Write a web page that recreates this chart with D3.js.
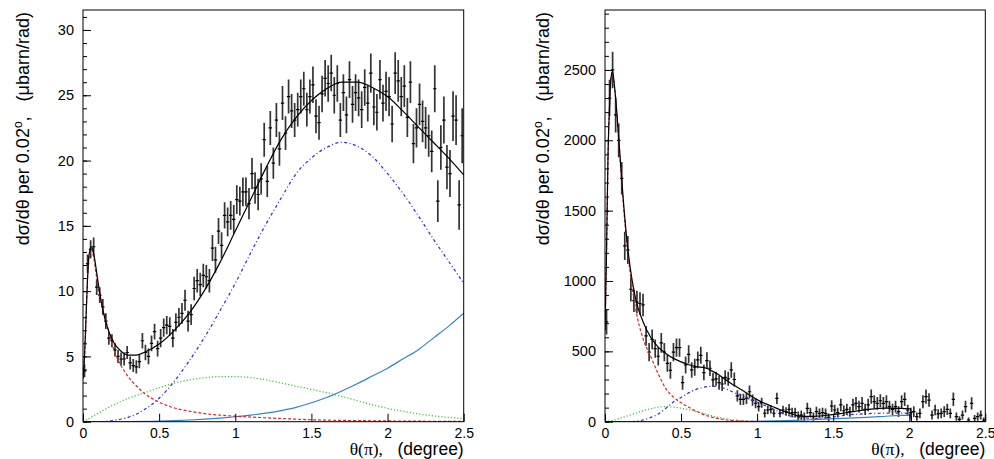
<!DOCTYPE html>
<html>
<head>
<meta charset="utf-8">
<script src="https://cdn.jsdelivr.net/npm/d3@7"></script>
<style>
  body { margin: 0; background: #fff; }
  text { font-family: "Liberation Sans", Arial, Helvetica, sans-serif; }
</style>
</head>
<body>
<script>
// bin centres (0.02 degree bins)
var thetaBins = [
  0.01,0.03,0.05,0.07,0.09,0.11,0.13,0.15,0.17,0.19,
  0.21,0.23,0.25,0.27,0.29,0.31,0.33,0.35,0.37,0.39,
  0.41,0.43,0.45,0.47,0.49,0.51,0.53,0.55,0.57,0.59,
  0.61,0.63,0.65,0.67,0.69,0.71,0.73,0.75,0.77,0.79,
  0.81,0.83,0.85,0.87,0.89,0.91,0.93,0.95,0.97,0.99,
  1.01,1.03,1.05,1.07,1.09,1.11,1.13,1.15,1.17,1.19,
  1.21,1.23,1.25,1.27,1.29,1.31,1.33,1.35,1.37,1.39,
  1.41,1.43,1.45,1.47,1.49,1.51,1.53,1.55,1.57,1.59,
  1.61,1.63,1.65,1.67,1.69,1.71,1.73,1.75,1.77,1.79,
  1.81,1.83,1.85,1.87,1.89,1.91,1.93,1.95,1.97,1.99,
  2.01,2.03,2.05,2.07,2.09,2.11,2.13,2.15,2.17,2.19,
  2.21,2.23,2.25,2.27,2.29,2.31,2.33,2.35,2.37,2.39,
  2.41,2.43,2.45,2.47,2.49
];

// left panel: measured points and errors
var leftCounts = [
  3.9,12.1,13.2,13.4,10.3,9.7,8.8,7.7,6.4,6.2,
  5.5,5.0,4.8,4.8,5.3,4.5,4.3,4.2,4.6,6.2,
  5.3,5.0,6.0,6.9,5.6,6.4,7.2,7.4,7.3,6.4,
  7.6,8.0,8.3,9.3,7.7,8.2,10.2,10.8,10.5,11.2,
  11.1,10.8,13.3,12.4,14.6,13.5,15.8,15.3,15.8,15.5,
  17.0,16.9,17.6,17.6,16.7,19.0,17.9,17.4,18.6,21.6,
  18.4,22.5,19.8,23.1,20.9,24.4,22.1,24.9,23.8,23.1,
  23.9,24.9,25.5,23.9,24.9,25.8,23.4,22.9,25.1,26.3,
  25.9,26.7,25.0,25.9,23.1,25.2,23.5,26.2,24.3,25.2,
  24.8,23.9,25.6,24.4,26.7,24.1,23.7,26.2,24.4,25.3,
  24.9,22.8,26.7,26.1,24.9,25.7,23.3,26.0,21.3,22.5,
  24.3,23.0,22.5,21.9,20.7,25.5,16.9,21.0,23.1,19.5,
  19.0,23.4,23.1,16.6,21.9
];
var leftErrors = [
  0.5,0.7,0.7,0.7,0.6,0.6,0.6,0.6,0.5,0.5,
  0.5,0.5,0.5,0.5,0.5,0.5,0.5,0.5,0.5,0.6,
  0.6,0.6,0.6,0.6,0.6,0.7,0.7,0.7,0.7,0.7,
  0.7,0.7,0.8,0.8,0.8,0.8,0.9,0.9,0.9,0.9,
  0.9,0.9,1.0,1.0,1.0,1.0,1.0,1.1,1.1,1.1,
  1.1,1.1,1.1,1.1,1.2,1.2,1.2,1.2,1.2,1.3,
  1.2,1.3,1.2,1.3,1.3,1.3,1.3,1.3,1.3,1.3,
  1.3,1.3,1.3,1.3,1.3,1.4,1.3,1.3,1.4,1.4,
  1.4,1.4,1.4,1.4,1.3,1.4,1.4,1.4,1.4,1.4,
  1.4,1.4,1.4,1.4,1.5,1.4,1.4,1.5,1.4,1.5,
  1.5,1.4,1.6,1.6,1.5,1.6,1.5,1.6,1.5,1.5,
  1.6,1.6,1.6,1.6,1.6,1.8,1.6,1.7,1.8,1.7,
  1.8,1.9,1.9,1.9,2.1
];

// left panel: fit and its components, [theta, value]
var leftTotal = [[0,3.3],[0.01,5.0],[0.02,8.0],[0.03,11.0],[0.04,12.8],[0.055,13.4],[0.07,12.9],[0.08,12.2],[0.1,10.6],[0.12,9.2],[0.15,7.6],[0.2,6.1],[0.25,5.4],[0.3,5.1],[0.35,5.1],[0.4,5.3],[0.5,5.95],[0.6,7.0],[0.7,8.35],[0.8,10.1],[0.9,12.2],[1.0,14.6],[1.1,17.0],[1.2,19.4],[1.3,21.6],[1.4,23.3],[1.5,24.6],[1.6,25.5],[1.7,26.0],[1.8,26.0],[1.9,25.6],[2.0,24.9],[2.1,23.8],[2.2,22.6],[2.3,21.4],[2.4,20.2],[2.5,18.9]];
var leftPeak = [[0,3.3],[0.01,5.0],[0.02,8.0],[0.03,11.0],[0.04,12.7],[0.055,13.2],[0.07,12.6],[0.085,11.4],[0.1,10.2],[0.13,8.6],[0.17,6.9],[0.2,5.6],[0.25,4.3],[0.3,3.4],[0.35,2.75],[0.4,2.2],[0.5,1.5],[0.6,1.05],[0.7,0.8],[0.8,0.62],[0.9,0.5],[1.0,0.42],[1.2,0.3],[1.5,0.15],[2.0,0.06],[2.5,0.02]];
var leftBroad = [[0,0],[0.1,0.65],[0.2,1.28],[0.3,1.8],[0.4,2.2],[0.5,2.6],[0.6,2.95],[0.7,3.2],[0.8,3.37],[0.9,3.45],[1.0,3.45],[1.1,3.38],[1.2,3.2],[1.3,2.97],[1.4,2.72],[1.5,2.48],[1.6,2.22],[1.7,1.93],[1.8,1.62],[1.9,1.3],[2.0,1.02],[2.1,0.8],[2.2,0.6],[2.3,0.45],[2.4,0.33],[2.5,0.25]];
var leftHump = [[0,0],[0.1,0],[0.2,0.1],[0.3,0.35],[0.4,0.9],[0.5,1.8],[0.6,3.1],[0.7,4.7],[0.8,6.5],[0.9,8.5],[1.0,10.6],[1.1,12.9],[1.2,15.1],[1.3,17.1],[1.4,19.0],[1.5,20.2],[1.6,21.0],[1.7,21.4],[1.8,21.1],[1.9,20.3],[2.0,19.0],[2.1,17.5],[2.2,15.8],[2.3,14.0],[2.4,12.3],[2.5,10.6]];
var leftRise = [[0,0],[0.3,0.01],[0.5,0.04],[0.6,0.08],[0.7,0.13],[0.8,0.2],[0.9,0.28],[1.0,0.38],[1.1,0.5],[1.2,0.65],[1.3,0.85],[1.4,1.1],[1.5,1.45],[1.6,1.85],[1.7,2.35],[1.8,2.9],[1.9,3.5],[2.0,4.1],[2.1,4.8],[2.2,5.5],[2.3,6.4],[2.4,7.3],[2.5,8.3]];

// right panel: measured points and errors
var rightCounts = [
  710,2300,2500,2180,2000,1730,1250,1220,940,860,
  850,840,830,610,495,585,520,465,560,495,
  415,365,495,527,527,277,403,479,368,387,
  439,472,349,434,380,297,305,277,268,315,
  305,368,300,183,159,159,166,213,154,131,
  107,135,60,83,88,60,166,60,83,72,
  88,64,64,40,47,36,95,64,36,71,
  59,64,59,31,111,83,64,119,78,88,
  71,119,130,107,130,88,119,178,142,130,
  149,130,142,107,88,107,71,142,159,83,
  64,71,36,59,142,178,154,47,83,55,
  59,71,88,59,159,36,17,47,107,12,
  130,24,36,47,12
];
var rightErrors = [
  90,130,130,125,120,115,100,100,85,80,
  80,80,80,70,65,70,65,65,70,65,
  60,60,65,65,65,50,60,65,55,60,
  60,60,55,60,55,50,50,50,50,50,
  50,55,50,40,40,40,40,45,40,35,
  35,35,30,30,30,28,40,28,30,30,
  38,35,35,32,33,30,40,35,30,36,
  34,35,34,28,42,38,35,44,38,40,
  36,44,45,42,45,40,44,50,46,45,
  46,45,46,42,40,42,38,46,48,38,
  35,38,30,34,46,50,48,32,38,34,
  34,38,40,34,48,30,22,32,42,18,
  44,24,30,32,18
];

var rightTotal = [[0,650],[0.01,1200],[0.02,1900],[0.03,2250],[0.04,2450],[0.05,2490],[0.06,2410],[0.08,2170],[0.1,1870],[0.12,1580],[0.15,1230],[0.2,880],[0.25,710],[0.3,600],[0.35,530],[0.4,485],[0.45,450],[0.5,425],[0.55,405],[0.6,392],[0.67,378],[0.7,362],[0.75,332],[0.8,292],[0.85,258],[0.9,225],[0.95,190],[1.0,157],[1.05,130],[1.1,108],[1.15,85],[1.2,65],[1.27,42],[1.35,38],[1.45,45],[1.55,58],[1.65,75],[1.75,90],[1.85,96],[1.95,94],[2.01,92],[2.015,0],[2.5,0]];
var rightPeak = [[0,650],[0.01,1200],[0.02,1900],[0.03,2250],[0.04,2450],[0.05,2480],[0.06,2400],[0.08,2150],[0.1,1850],[0.12,1550],[0.15,1200],[0.2,810],[0.25,590],[0.3,465],[0.35,340],[0.4,235],[0.45,175],[0.5,135],[0.55,103],[0.6,75],[0.67,42],[0.7,33],[0.8,12],[0.9,5],[1.0,2],[1.2,0],[2.5,0]];
var rightBroad = [[0,0],[0.05,10],[0.1,25],[0.15,42],[0.2,60],[0.25,78],[0.3,92],[0.35,103],[0.4,107],[0.45,104],[0.5,96],[0.55,85],[0.6,72],[0.65,58],[0.7,43],[0.75,30],[0.8,20],[0.85,12],[0.9,6],[0.95,2],[1.0,0],[2.5,0]];
var rightHump = [[0,0],[0.15,0],[0.2,3],[0.25,12],[0.3,30],[0.35,55],[0.4,95],[0.45,140],[0.5,172],[0.55,205],[0.6,230],[0.65,245],[0.7,252],[0.75,248],[0.8,230],[0.85,207],[0.9,185],[0.95,160],[1.0,138],[1.05,115],[1.1,93],[1.15,68],[1.2,46],[1.3,28],[1.4,24],[1.5,34],[1.6,48],[1.7,56],[1.8,60],[1.9,61],[2.01,60],[2.015,0],[2.5,0]];
var rightRise = [[0,0],[0.8,0],[1.0,3],[1.2,8],[1.4,16],[1.6,25],[1.8,36],[2.01,47],[2.015,0],[2.5,0]];

var xTicks = [0, 0.5, 1, 1.5, 2, 2.5];
var leftYTicks = [0, 5, 10, 15, 20, 25, 30];
var rightYTicks = [0, 500, 1000, 1500, 2000, 2500];

var W = 994, H = 459;
var TOP = 10, BOTTOM = 421.7;
var GAP = '\u00a0\u00a0\u00a0';

var svg = d3.select('body').append('svg')
  .attr('width', W)
  .attr('height', H);

var components = [
  { key: 'rise',  stroke: '#2f86c4', dash: null,          width: 1.2 },
  { key: 'broad', stroke: '#44c244', dash: '1.2,2',       width: 1.3 },
  { key: 'hump',  stroke: '#2c2cd0', dash: '3,2.5,1,2.5', width: 1.2 },
  { key: 'peak',  stroke: '#d22b2b', dash: '3,2',         width: 1.2 },
  { key: 'total', stroke: '#000',    dash: null,          width: 1.2 }
];

function drawPanel(p) {
  var x = d3.scaleLinear().domain([0, 2.5]).range([p.left, p.right]);
  var y = d3.scaleLinear().domain([0, p.yMax]).range([BOTTOM, TOP]);
  var g = svg.append('g');

  var clipId = 'clip-' + p.id;
  svg.append('clipPath').attr('id', clipId)
    .append('rect')
      .attr('x', p.left).attr('y', TOP)
      .attr('width', p.right - p.left).attr('height', BOTTOM - TOP);

  var plot = g.append('g').attr('clip-path', 'url(#' + clipId + ')');

  // error bars
  var pts = thetaBins.map(function (t, i) {
    return { x: t, y: p.counts[i], e: p.errors[i] };
  });
  var pt = plot.selectAll('g.pt').data(pts).enter().append('g').attr('class', 'pt');
  pt.append('line')
    .attr('x1', function (d) { return x(d.x); })
    .attr('x2', function (d) { return x(d.x); })
    .attr('y1', function (d) { return y(d.y - d.e); })
    .attr('y2', function (d) { return y(d.y + d.e); })
    .style('stroke', '#333')
    .style('stroke-width', 1.7);
  pt.append('line')
    .attr('x1', function (d) { return x(d.x) - 1.7; })
    .attr('x2', function (d) { return x(d.x) + 1.7; })
    .attr('y1', function (d) { return y(d.y); })
    .attr('y2', function (d) { return y(d.y); })
    .style('stroke', '#000')
    .style('stroke-width', 1.2);

  // fit curves
  var line = d3.line()
    .x(function (d) { return x(d[0]); })
    .y(function (d) { return y(d[1]); })
    .curve(d3.curveMonotoneX);

  components.forEach(function (c) {
    plot.append('path')
      .datum(p.curves[c.key])
      .attr('d', line)
      .style('fill', 'none')
      .style('stroke', c.stroke)
      .style('stroke-width', c.width)
      .style('stroke-dasharray', c.dash);
  });

  // frame
  g.append('rect')
    .attr('x', p.left).attr('y', TOP)
    .attr('width', p.right - p.left).attr('height', BOTTOM - TOP)
    .style('fill', 'none')
    .style('stroke', '#000')
    .style('stroke-width', 1);

  // x axis: major ticks pointing up
  var xAxis = d3.axisBottom(x).tickValues(xTicks).tickSize(-8).tickPadding(6)
    .tickFormat(function (d) { return String(d); });
  var xg = g.append('g').attr('transform', 'translate(0,' + BOTTOM + ')').call(xAxis);
  xg.select('.domain').remove();
  xg.selectAll('text').style('font-size', '14px').attr('fill', '#000');

  // y axis: majors + minors pointing right
  var yMinor = d3.range(0, p.yMax, p.yMinorStep);
  var ym = g.append('g').attr('transform', 'translate(' + p.left + ',0)')
    .call(d3.axisLeft(y).tickValues(yMinor).tickSize(-4).tickFormat(''));
  ym.select('.domain').remove();
  var yAxis = d3.axisLeft(y).tickValues(p.yTicks).tickSize(-8).tickPadding(9)
    .tickFormat(function (d) { return String(d); });
  var yg = g.append('g').attr('transform', 'translate(' + p.left + ',0)').call(yAxis);
  yg.select('.domain').remove();
  yg.selectAll('text').style('font-size', '14.5px').attr('fill', '#000');
  g.selectAll('.tick line').style('stroke', '#000');

  // y title
  var yt = g.append('text')
    .attr('transform', 'translate(' + p.titleX + ',' + (TOP + 2) + ') rotate(-90)')
    .attr('text-anchor', 'end')
    .style('font-size', '18px');
  yt.append('tspan').text('d\u03c3/d\u03b8 per 0.02');
  yt.append('tspan').attr('dy', -7).style('font-size', '12px').text('o');
  yt.append('tspan').attr('dy', 7).text(',' + GAP + '(\u03bcbarn/rad)');

  // x title
  var xt = g.append('text')
    .attr('x', p.right).attr('y', 455)
    .attr('text-anchor', 'end')
    .style('font-size', '17.5px');
  xt.append('tspan').style('font-family', '"Liberation Serif", "Times New Roman", serif').text('\u03b8(\u03c0),');
  xt.append('tspan').text(GAP + '(degree)');
}

drawPanel({
  id: 'left', left: 83, right: 463.7, yMax: 31.53, yMinorStep: 1,
  yTicks: leftYTicks, titleX: 29,
  counts: leftCounts, errors: leftErrors,
  curves: { total: leftTotal, peak: leftPeak, broad: leftBroad, hump: leftHump, rise: leftRise }
});

drawPanel({
  id: 'right', left: 605, right: 985.3, yMax: 2926, yMinorStep: 100,
  yTicks: rightYTicks, titleX: 549,
  counts: rightCounts, errors: rightErrors,
  curves: { total: rightTotal, peak: rightPeak, broad: rightBroad, hump: rightHump, rise: rightRise }
});
</script>
</body>
</html>
